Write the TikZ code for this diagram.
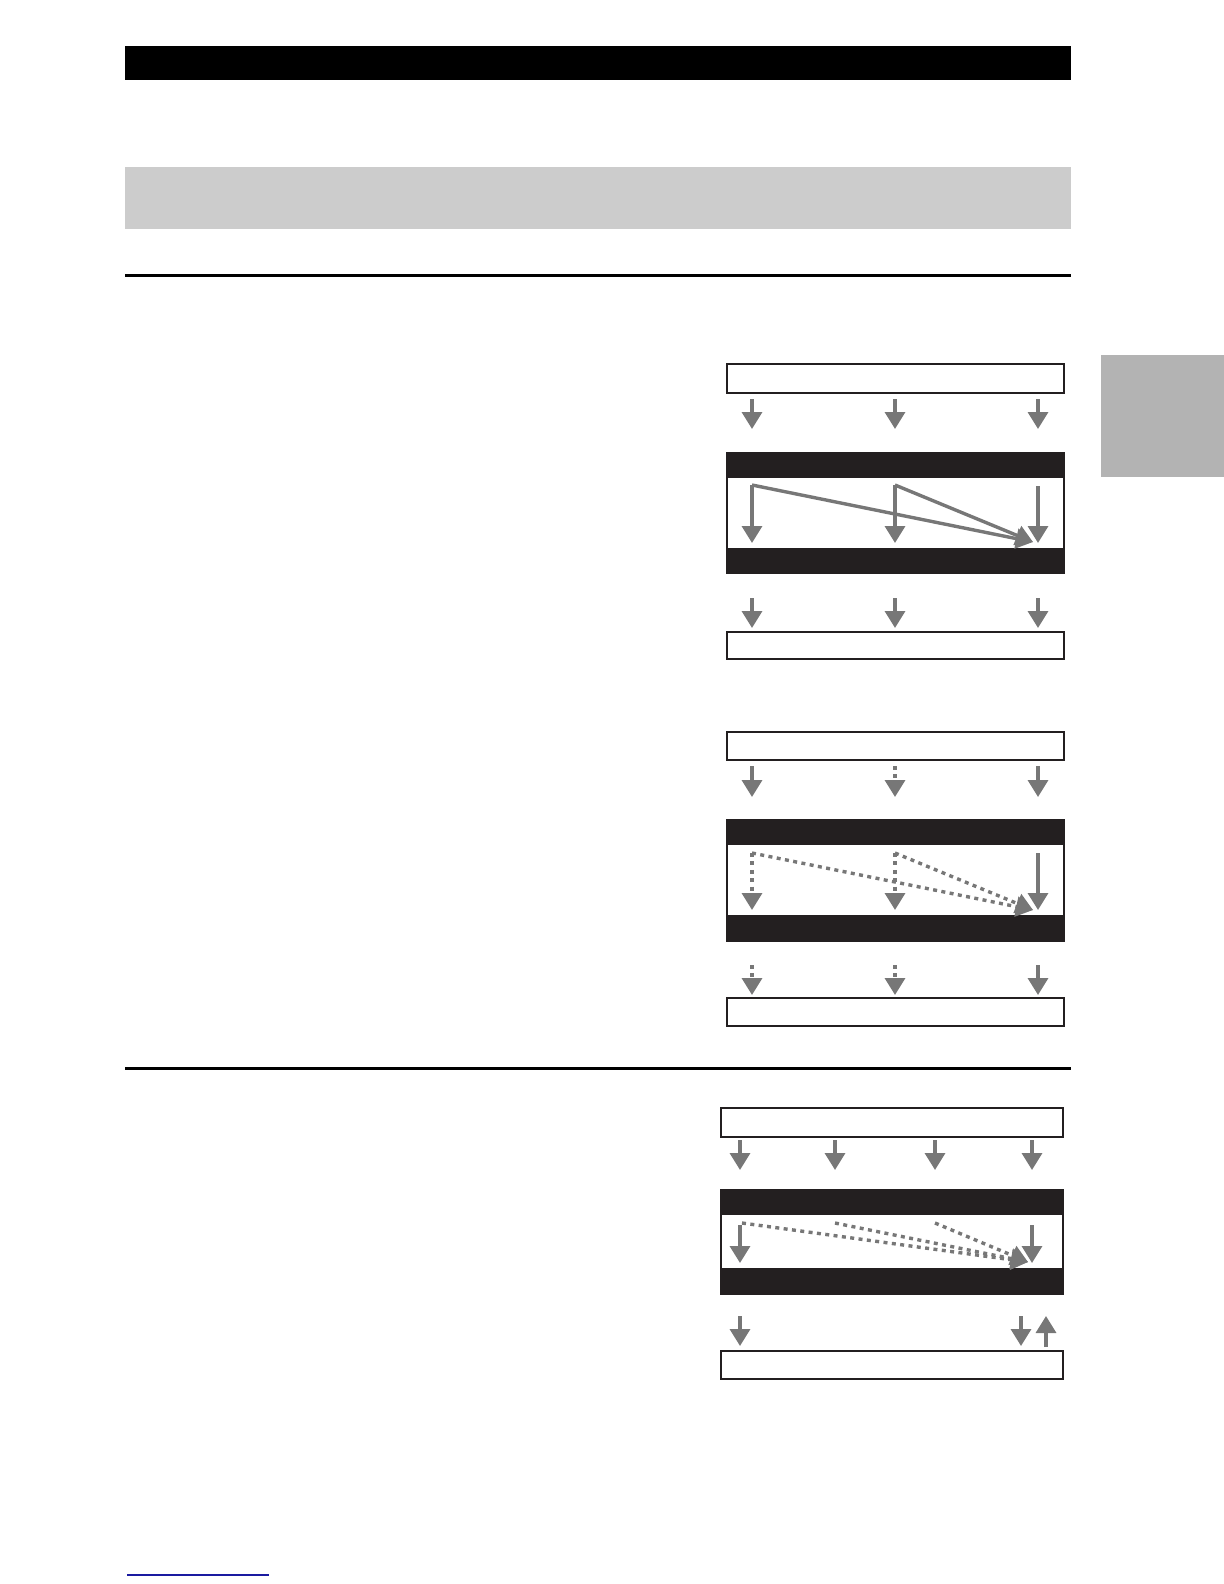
\documentclass[tikz,border=0pt]{standalone}
\usetikzlibrary{arrows.meta}
\definecolor{arrowgray}{HTML}{777777}
\definecolor{bandblack}{HTML}{231F20}
\definecolor{bargray}{HTML}{CCCCCC}
\definecolor{tabgray}{HTML}{B3B3B3}
\definecolor{linkblue}{HTML}{1A1AA0}
\tikzset{
  flow/.style={draw=arrowgray,line width=1.7pt,-{Triangle[width=10pt,length=8.5pt]}},
  dotflow/.style={flow,dash pattern=on 2pt off 2.2pt},
  box/.style={draw=bandblack,line width=0.9pt,fill=white},
  frame/.style={draw=bandblack,line width=0.6pt},
  band/.style={fill=bandblack}
}
\begin{document}
\begin{tikzpicture}[x=0.5pt,y=-0.5pt]
\useasboundingbox (0,0) rectangle (1224,1584);
% page furniture
\fill[black] (125,46) rectangle (1071,80);
\fill[bargray] (125,167) rectangle (1071,229);
\fill[black] (125,274) rectangle (1071,277);
\fill[black] (125,1067) rectangle (1071,1070);
\fill[tabgray] (1101,355) rectangle (1224,477);
\draw[linkblue,line width=0.6pt] (127,1575) -- (269,1575);

% diagram 1
\draw[box] (727,364) rectangle (1064,393);
\foreach \x in {752,895,1038}
 \draw[flow] (\x,399) -- (\x,429);
\draw[frame] (727,453) rectangle (1064,573);
\fill[band] (727,453) rectangle (1064,478);
\fill[band] (727,548) rectangle (1064,573);
\coordinate (tipA) at (1033,542);
\foreach \x in {752,895}
 {\draw[flow] (\x,485) -- (\x,543);
  \draw[flow] (\x,485) -- (tipA);}
\draw[flow] (1038,486) -- (1038,543);
\foreach \x in {752,895,1038}
 \draw[flow] (\x,598) -- (\x,628);
\draw[box] (727,632) rectangle (1064,659);

% diagram 2
\draw[box] (727,732) rectangle (1064,760);
\draw[flow] (752,766) -- (752,797);
\draw[dotflow] (895,766) -- (895,797);
\draw[flow] (1038,766) -- (1038,797);
\draw[frame] (727,820) rectangle (1064,941);
\fill[band] (727,820) rectangle (1064,845);
\fill[band] (727,915) rectangle (1064,941);
\coordinate (tipB) at (1033,910);
\foreach \x in {752,895}
 {\draw[dotflow] (\x,853) -- (\x,910);
  \draw[dotflow] (\x,853) -- (tipB);}
\draw[flow] (1038,853) -- (1038,910);
\draw[dotflow] (752,965) -- (752,995);
\draw[dotflow] (895,965) -- (895,995);
\draw[flow] (1038,965) -- (1038,995);
\draw[box] (727,998) rectangle (1064,1026);

% diagram 3
\draw[box] (721,1108) rectangle (1063,1137);
\foreach \x in {740,835,935,1032}
 \draw[flow] (\x,1140) -- (\x,1170);
\draw[frame] (721,1190) rectangle (1063,1294);
\fill[band] (721,1190) rectangle (1063,1215);
\fill[band] (721,1268) rectangle (1063,1294);
\coordinate (tipC) at (1028,1262);
\draw[flow] (740,1225) -- (740,1263);
\foreach \x in {742,835,935}
 \draw[dotflow] (\x,1223) -- (tipC);
\draw[flow] (1032,1225) -- (1032,1263);
\draw[flow] (740,1316) -- (740,1346);
\draw[flow] (1021,1316) -- (1021,1346);
\draw[flow] (1046,1347) -- (1046,1316);
\draw[box] (721,1351) rectangle (1063,1379);
\end{tikzpicture}
\end{document}
